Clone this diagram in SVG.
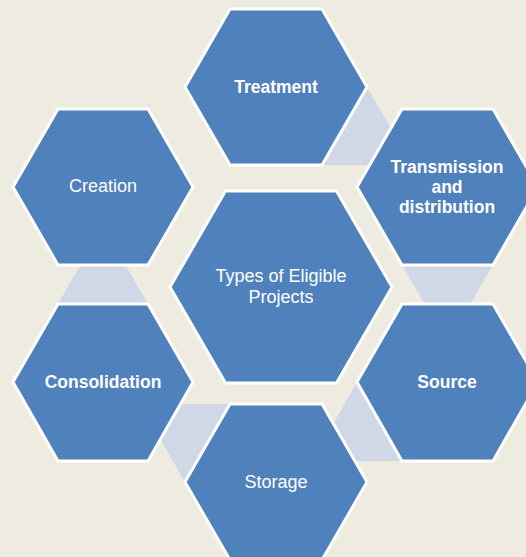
<svg xmlns="http://www.w3.org/2000/svg" width="526" height="557" viewBox="0 0 526 557">
  <style>
    .hex { fill: #4F81BD; stroke: #FFFFFF; stroke-width: 3; stroke-linejoin: miter; }
    .link { fill: #D0D8E8; stroke: none; }
    .lbl { fill: #FFFFFF; font-family: "Liberation Sans", Arial, sans-serif; text-anchor: middle; }
    .reg { font-size: 18px; }
    .bold { font-size: 17.5px; font-weight: bold; }
  </style>
  <rect width="526" height="557" fill="#EEECE1"/>

  <!-- connectors: triangular bands linking neighbouring hexagons -->
  <g id="connectors">
    <polygon class="link" points="367,87 412,165 322,165"/>
    <polygon class="link" points="402,265 493,265 447.5,343"/>
    <polygon class="link" points="357,382 402,461 312,461"/>
    <polygon class="link" points="229,404 185,482 140,404"/>
    <polygon class="link" points="58,304 148,304 103,226"/>
  </g>

  <g id="treatment">
    <polygon class="hex" points="185,87 230,9 322,9 367,87 322,165 230,165"/>
    <text class="lbl bold" x="276" y="93">Treatment</text>
  </g>

  <g id="transmission">
    <polygon class="hex" points="357,187 402,109 493,109 538,187 493,265 402,265"/>
    <text class="lbl bold" x="447" y="173">Transmission</text>
    <text class="lbl bold" x="447" y="193">and</text>
    <text class="lbl bold" x="447" y="213">distribution</text>
  </g>

  <g id="creation">
    <polygon class="hex" points="13,187 58,109 148,109 193,187 148,265 58,265"/>
    <text class="lbl reg" x="103" y="192">Creation</text>
  </g>

  <g id="types">
    <polygon class="hex" points="170,287 225.5,191 336.5,191 392,287 336.5,383 225.5,383"/>
    <text class="lbl reg" x="281" y="282">Types of Eligible</text>
    <text class="lbl reg" x="281" y="303">Projects</text>
  </g>

  <g id="consolidation">
    <polygon class="hex" points="13,382 58,304 148,304 193,382 148,461 58,461"/>
    <text class="lbl bold" x="103" y="388">Consolidation</text>
  </g>

  <g id="source">
    <polygon class="hex" points="357,382 402,304 493,304 538,382 493,461 402,461"/>
    <text class="lbl bold" x="447" y="388">Source</text>
  </g>

  <g id="storage">
    <polygon class="hex" points="185,482 230,404 322,404 367,482 322,560 230,560"/>
    <text class="lbl reg" x="276" y="488">Storage</text>
  </g>
</svg>
